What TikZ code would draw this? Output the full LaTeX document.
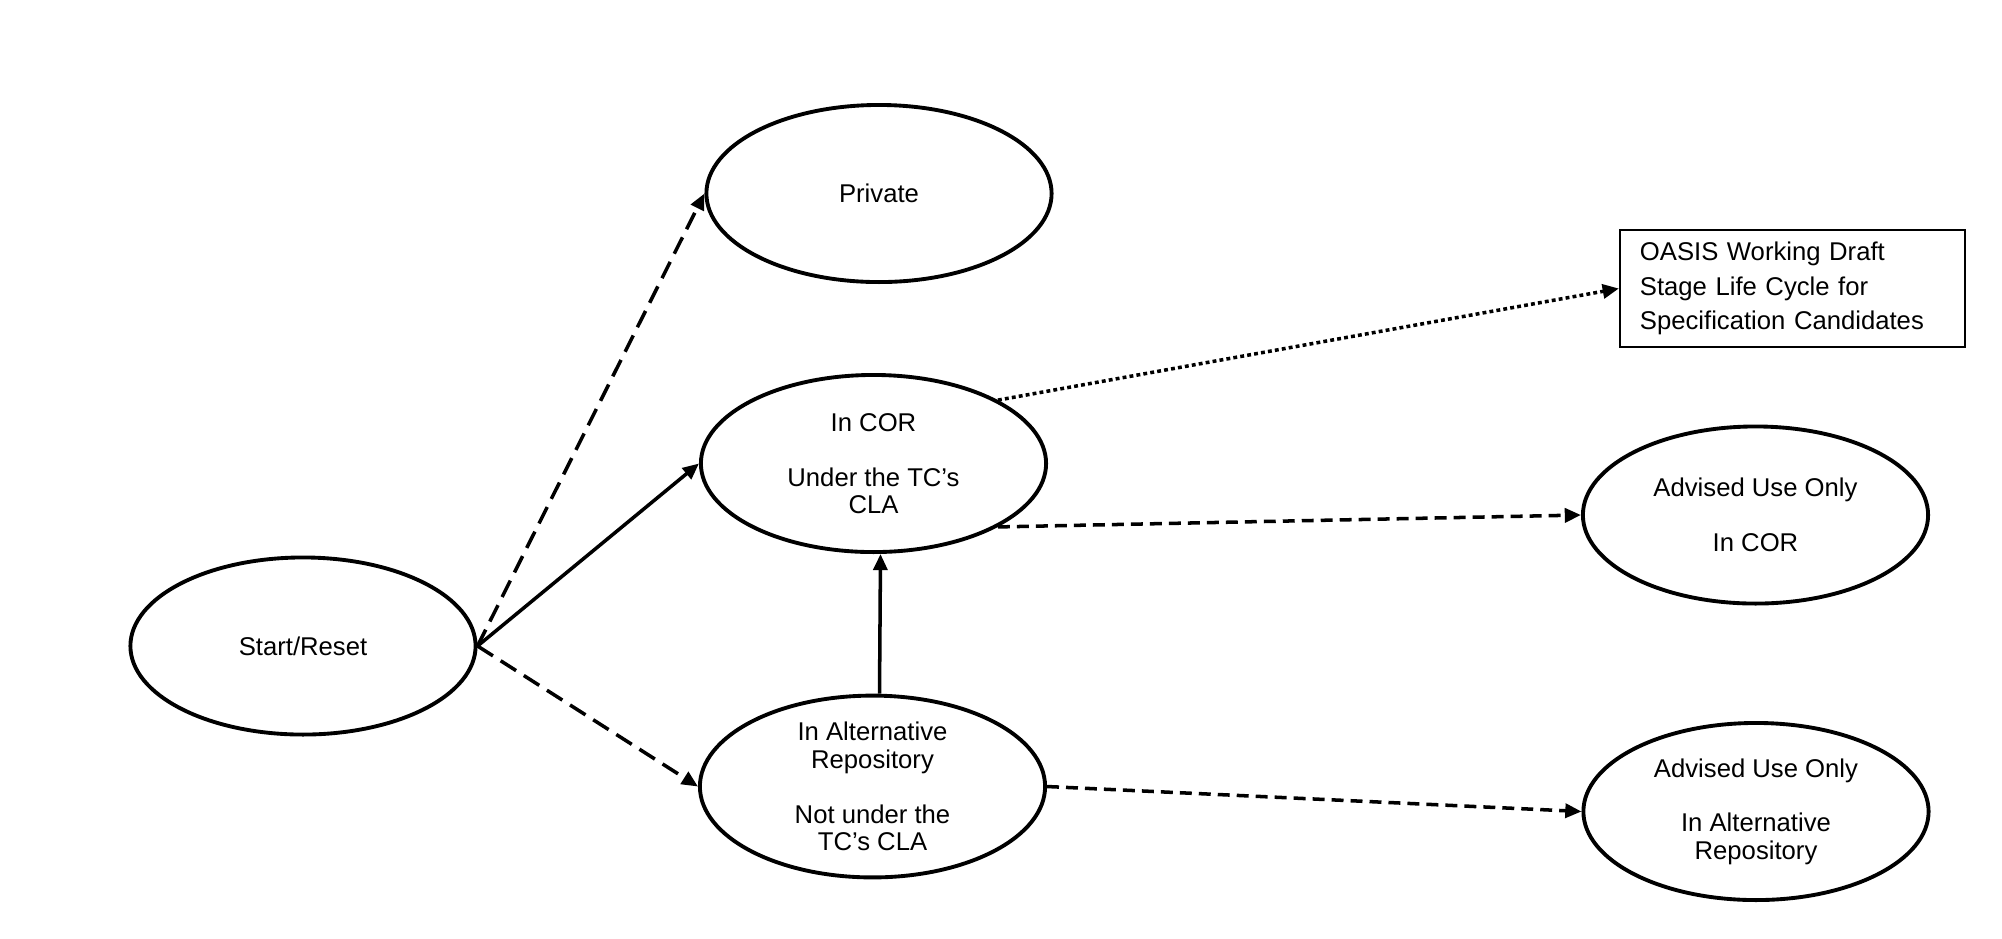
\documentclass[tikz,border=0pt]{standalone}
\usepackage{fontspec}
\setmainfont{Liberation Sans}
\usetikzlibrary{shapes.geometric,arrows.meta}

\begin{document}
\begin{tikzpicture}[x=0.01cm,y=-0.01cm,
    state/.style={ellipse, draw, line width=1.1pt, minimum width=3.45cm,
      minimum height=1.77cm, inner sep=0pt, align=center,
      font=\fontsize{7.3}{7.8}\selectfont},
    notebox/.style={rectangle, draw, line width=0.6pt, text width=3.05cm,
      inner xsep=0.2cm, minimum height=1.17cm, align=left,
      font=\fontsize{7.3}{9.9}\selectfont},
    move/.style={line width=1pt, -{Triangle[length=4.6pt,width=4pt]}},
    movelong/.style={move, dash pattern=on 5.2pt off 2.6pt},
    moveshort/.style={move, dash pattern=on 3.4pt off 2pt},
    movedot/.style={move, dash pattern=on 1.1pt off 0.9pt}]
  % Page
  \useasboundingbox (0,0) rectangle (2002,938);

  % States
  \node[state] (start) at (303,646) {Start/Reset};
  \node[state] (private) at (879,193.5) {Private};
  \node[state] (cor) at (873.5,463.5) {In COR\\[7.8pt]Under the TC’s\\CLA};
  \node[state] (alt) at (872.5,786.5) {In Alternative\\Repository\\[7.8pt]Not under the\\TC’s CLA};
  \node[state] (advcor) at (1755.5,515) {Advised Use Only\\[7.8pt]In COR};
  \node[state] (advalt) at (1756,811.5) {Advised Use Only\\[7.8pt]In Alternative\\Repository};

  % Working draft note
  \node[notebox] (draft) at (1792.5,288.5) {OASIS Working Draft\\Stage Life Cycle for\\Specification Candidates};

  % Transitions out of Start/Reset
  \draw[movelong] (start.east) -- (private.west);
  \draw[move] (start.east) -- (cor.west);
  \draw[movelong] (start.east) -- (alt.west);

  % Alternative repository moves into COR
  \draw[move] ([xshift=0.07cm]alt.north) -- ([xshift=0.07cm]cor.south);

  % Advised use only
  \draw[moveshort] (cor.-27) -- (advcor.west);
  \draw[moveshort] (alt.east) -- (advalt.west);

  % Link to the working draft life cycle
  \draw[movedot] (cor.27) -- (draft.west);
\end{tikzpicture}
\end{document}
